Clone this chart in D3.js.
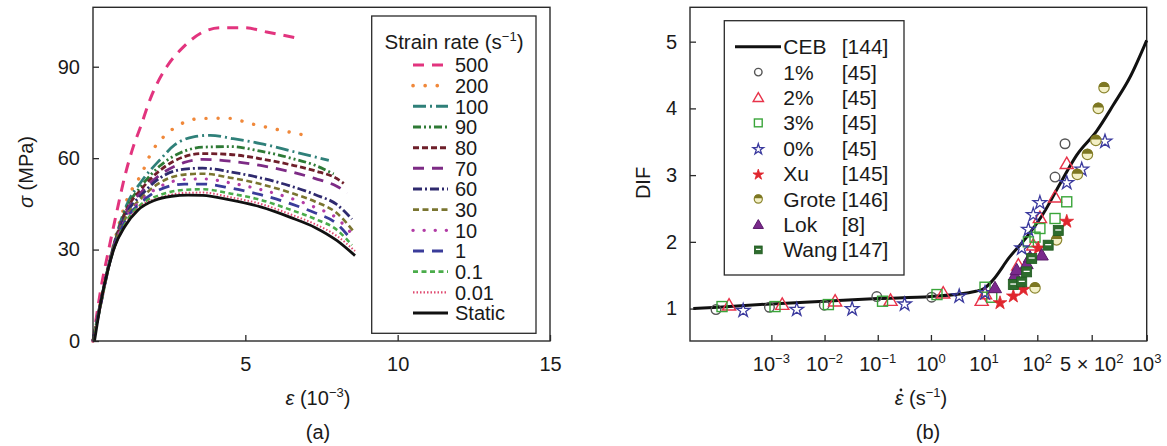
<!DOCTYPE html>
<html><head><meta charset="utf-8">
<script src="https://cdn.jsdelivr.net/npm/d3@7"></script>
<style>
body{margin:0;background:#fff}
svg{display:block}
text{font-family:"Liberation Sans",Arial,sans-serif;fill:#1a1a1a}
</style>
</head><body>
<svg id="c" width="1167" height="446"></svg>
<script>
// ---------------- DATA: panel (a) ----------------
const rateLabels = ["500","200","100","90","80","70","60","30","10","1","0.1","0.01","Static"];
const strain500 = [0,0.27,0.49,0.77,1.04,1.32,1.55,1.93,2.42,2.97,3.52,4.2,4.95,5.7,6.64];
const stress500 = [0,17.8,28.8,41.9,53.9,63.7,70,80.7,90,96.5,100.9,102.8,102.8,101.4,99.5];
const strain200 = [0,0.25,0.55,1.1,1.6,1.93,2.26,2.64,3.03,3.52,4.4,5.27,6.0,6.97];
const stress200 = [0,13,26.5,46,55,62.1,66.4,69.7,71.9,73.0,73.1,71.1,69.5,67.5];
const strain100 = [0,0.25,0.55,1.1,1.6,2.2,2.7,3.3,3.85,4.6,5.5,6.6,7.74];
const stress100 = [0,12.8,26.5,44.5,52.5,59.5,64.5,67,67.5,66.4,64.8,62.1,59.3];
const strain90 = [0,0.25,0.55,1.1,1.6,2.2,3.0,3.6,4.5,5.5,6.5,7.3,7.9];
const stress90 = [0,12.7,26.3,43.5,51,57.5,62.3,63.6,63.8,62.3,60,57.6,54.8];
const strain80 = [0,0.25,0.55,1.1,1.6,2.2,3.0,3.6,4.5,5.5,6.5,7.3,8.0,8.23];
const stress80 = [0,12.6,26.2,43,50,56,60.5,61.5,61.2,59.8,57.8,55.8,53.3,51.7];
const strain70 = [0,0.25,0.55,1.1,1.6,2.2,3.0,3.6,4.5,5.5,6.5,7.3,8.0,8.35];
const stress70 = [0,12.5,26.1,42.5,49,54.5,58.6,59.6,59,57.6,55.5,53.3,50.8,48.6];
const strain60 = [0,0.25,0.55,1.1,1.6,2.2,3.0,3.6,4.5,5.5,6.5,7.3,8.0,8.5];
const stress60 = [0,12.3,26,41.8,48,53.5,56.4,56.7,55.5,53.5,50.8,48,44.8,40];
const strain30 = [0,0.25,0.55,1.1,1.6,2.2,3.0,3.6,4.5,5.5,6.5,7.3,8.0,8.55];
const stress30 = [0,12.1,25.9,41,47,52,54.6,54.9,53.6,51.5,48.6,45.7,42,36];
const strain10 = [0,0.25,0.55,1.1,1.6,2.2,3.0,3.6,4.5,5.5,6.5,7.3,8.0,8.55];
const stress10 = [0,12,25.8,40.5,46.3,50.7,53,53.2,51.9,49.7,46.8,43.8,40.3,34.5];
const strain1 = [0,0.25,0.55,1.1,1.6,2.2,3.0,3.6,4.5,5.5,6.5,7.3,8.0,8.5];
const stress1 = [0,11.8,25.7,40,45.6,49.7,51.5,51.5,50.2,48,45,42,38.5,33];
const strain01 = [0,0.25,0.55,1.1,1.6,2.2,3.0,3.6,4.5,5.5,6.5,7.3,8.0,8.5];
const stress01 = [0,11.6,25.6,39.3,45,47.9,49.6,49.8,48.4,46.3,43,40,36.5,31.5];
const strain001 = [0,0.25,0.55,1.1,1.6,2.2,3.0,3.6,4.5,5.5,6.5,7.3,8.0,8.6];
const stress001 = [0,11.4,25.5,38.8,44.5,47,48.6,48.7,47.2,45,41.5,38.3,34.5,29.5];
const strainStatic = [0.05,0.27,0.49,0.71,1.04,1.48,2.03,2.58,3.12,3.6,4.5,5.5,6.5,7.3,8.0,8.6];
const stressStatic = [0,13.4,23.3,30.9,37.5,43,46.2,47.5,47.9,47.8,46.3,44,40.5,37.2,33,28];
const stressTicks = [0,30,60,90];
const strainTicks = [5,10,15];

// ---------------- DATA: panel (b) ----------------
const cebRate = [3.4e-5,1e-4,1e-3,1e-2,1e-1,1,7,10,14.4,30,63,119,196,321,532,656,811,1000];
const cebDif  = [1.0,1.02,1.07,1.11,1.15,1.18,1.26,1.3,1.42,1.77,2.07,2.42,2.87,3.30,3.66,4.05,4.47,5.02];
const p1Rate = [9.1e-5,9.2e-4,9.9e-3,0.096,1.03,169,227];
const p1Dif  = [0.985,1.02,1.05,1.18,1.17,2.97,3.47];
const p2Rate = [1.6e-4,1.6e-3,1.58e-2,0.174,1.7,9.0,10.4,44,84,108,169,239];
const p2Dif  = [1.05,1.06,1.11,1.12,1.23,1.12,1.22,1.65,1.95,2.36,2.67,3.17];
const p3Rate = [1.18e-4,1.17e-3,1.18e-2,0.123,1.3,10.4,13.9,38,68,90.6,108,169,239];
const p3Dif  = [1.03,1.03,1.06,1.11,1.21,1.32,1.17,1.37,2.0,2.07,2.2,2.35,2.6];
const p0Rate = [2.95e-4,3.0e-3,3.3e-2,0.32,3.4,10.4,51,68,84,108,239,372,591];
const p0Dif  = [0.985,1.0,1.01,1.08,1.2,1.25,1.92,2.2,2.42,2.6,2.9,3.1,3.52];
const xuRate = [19.9,35.4,54.6,103,239];
const xuDif  = [1.1,1.2,1.3,1.92,2.32];
const groteRate = [90.6,177,327,441,527,543,584];
const groteDif  = [1.31,2.03,3.01,3.31,3.52,4.0,4.31];
const lokRate = [16,38,41,63,73,114];
const lokDif  = [1.31,1.5,1.58,1.67,1.77,1.8];
const wangRate = [35.4,51,63,78.5,138,186];
const wangDif  = [1.36,1.4,1.55,1.75,1.95,2.17];
const legendNames = ["CEB","1%","2%","3%","0%","Xu","Grote","Lok","Wang"];
const legendRefs  = ["[144]","[45]","[45]","[45]","[45]","[145]","[146]","[8]","[147]"];
const difTicks = [1,2,3,4,5];
const rateTicks = [1e-3,1e-2,1e-1,1,10,100,500,1000];
const rateTickBase = ["10","10","10","10","10","10","5 × 10","10"];
const rateTickExp  = ["−3","−2","−1","0","1","2","2","3"];

// ---------------- STYLES ----------------
const lineColors = ["#e2347e","#f0883a","#2f8079","#2e7a35","#6e1f2a","#7d2b85","#2f2a6e","#7a7530","#b23ca5","#3a3c9a","#4aac4a","#e04a70","#111111"];
const lineDash = ["11,8","0.1,12","13,4,2,4","8,3,2,3,2,3","6,3","11,8","9,3,2,3","6,3.5","0.1,11","11,8","5,3.5","1.5,2","none"];
const lineCap = ["butt","round","butt","butt","butt","butt","butt","butt","round","butt","butt","butt","butt"];
const lineW = [3,3.4,2.8,2.8,2.8,2.8,2.8,2.6,3.2,2.8,2.6,2,2.8];

const svg = d3.select("#c");
svg.append("rect").attr("width",1167).attr("height",446).attr("fill","#fff");

// ================= PANEL A =================
const xA = d3.scaleLinear().domain([0,15]).range([93,550]);
const yA = d3.scaleLinear().domain([0,109.5]).range([341,7.3]);
const gA = svg.append("g");
const axisColor = "#2a2a2a";

const strainSeries = [strain500,strain200,strain100,strain90,strain80,strain70,strain60,strain30,strain10,strain1,strain01,strain001,strainStatic];
const stressSeries = [stress500,stress200,stress100,stress90,stress80,stress70,stress60,stress30,stress10,stress1,stress01,stress001,stressStatic];

const lineA = d3.line().x(d=>xA(d[0])).y(d=>yA(d[1])).curve(d3.curveMonotoneX);
for (let i = 0; i < rateLabels.length; i++) {
  const pts = strainSeries[i].map((s,j)=>[s, stressSeries[i][j]]);
  gA.append("path").attr("d", lineA(pts)).attr("fill","none")
    .attr("stroke", lineColors[i]).attr("stroke-width", lineW[i])
    .attr("stroke-dasharray", lineDash[i]).attr("stroke-linecap", lineCap[i])
    .attr("stroke-linejoin","round");
}

gA.append("g").attr("transform","translate(93,0)")
  .call(d3.axisLeft(yA).tickValues(stressTicks).tickSizeInner(-6).tickSizeOuter(0).tickPadding(13))
  .call(g=>{g.select(".domain").remove(); g.selectAll("line").attr("stroke",axisColor).attr("stroke-width",1.3);
    g.selectAll("text").attr("font-size",20).attr("fill","#1a1a1a").attr("font-family","Liberation Sans, Arial, sans-serif");});
gA.append("g").attr("transform","translate(0,341)")
  .call(d3.axisBottom(xA).tickValues(strainTicks).tickSizeInner(-6).tickSizeOuter(0).tickPadding(16))
  .call(g=>{g.select(".domain").remove(); g.selectAll("line").attr("stroke",axisColor).attr("stroke-width",1.3);
    g.selectAll("text").attr("font-size",20).attr("fill","#1a1a1a").attr("font-family","Liberation Sans, Arial, sans-serif");});
gA.append("rect").attr("x",xA(0)).attr("y",yA(109.5)).attr("width",xA(15)-xA(0)).attr("height",yA(0)-yA(109.5))
  .attr("fill","none").attr("stroke",axisColor).attr("stroke-width",1.4);

// legend A
const legA = gA.append("g");
legA.append("rect").attr("x",371.7).attr("y",16).attr("width",164.3).attr("height",317.3)
  .attr("fill","#fff").attr("stroke",axisColor).attr("stroke-width",1.3);
const tA = legA.append("text").attr("x",454).attr("y",49).attr("text-anchor","middle").attr("font-size",20.5);
tA.append("tspan").text("Strain rate (s");
tA.append("tspan").attr("font-size",13).attr("dy",-8).text("−1");
tA.append("tspan").attr("dy",8).text(")");
rateLabels.forEach((lab,i)=>{
  const cy = 65 + i*20.67;
  legA.append("line").attr("x1",413).attr("x2",448).attr("y1",cy).attr("y2",cy)
    .attr("stroke",lineColors[i]).attr("stroke-width",lineW[i]+0.2)
    .attr("stroke-dasharray",lineDash[i]).attr("stroke-linecap",lineCap[i]);
  legA.append("text").attr("x",455).attr("y",cy+7.3).attr("font-size",20).text(lab);
});

// axis titles A
const yTitA = gA.append("text").attr("transform","translate(33,172) rotate(-90)").attr("text-anchor","middle").attr("font-size",20);
yTitA.append("tspan").attr("font-style","italic").text("σ");
yTitA.append("tspan").text(" (MPa)");
const xTitA = gA.append("text").attr("x",318).attr("y",405).attr("text-anchor","middle").attr("font-size",20);
xTitA.append("tspan").attr("font-style","italic").text("ε");
xTitA.append("tspan").text(" (10");
xTitA.append("tspan").attr("font-size",13).attr("dy",-8).text("−3");
xTitA.append("tspan").attr("dy",8).text(")");
gA.append("text").attr("x",318).attr("y",439).attr("text-anchor","middle").attr("font-size",20).text("(a)");

// ================= PANEL B =================
const xB = d3.scaleLog().domain([Math.pow(10,-4.53),100,500,1000]).range([690,1037.3,1091.7,1146.7]);
const yB = d3.scaleLinear().domain([0.514,5.515]).range([341,7.3]);
const gB = svg.append("g");

gB.append("g").attr("transform","translate(690,0)")
  .call(d3.axisLeft(yB).tickValues(difTicks).tickSizeInner(-6).tickSizeOuter(0).tickPadding(13).tickFormat(d3.format("d")))
  .call(g=>{g.select(".domain").remove(); g.selectAll("line").attr("stroke",axisColor).attr("stroke-width",1.3);
    g.selectAll("text").attr("font-size",20).attr("fill","#1a1a1a").attr("font-family","Liberation Sans, Arial, sans-serif");});
gB.append("g").attr("transform","translate(0,341)")
  .call(d3.axisBottom(xB).tickValues(rateTicks).tickSizeInner(-6).tickSizeOuter(0).tickFormat(""))
  .call(g=>{g.select(".domain").remove(); g.selectAll("line").attr("stroke",axisColor).attr("stroke-width",1.3);});
rateTicks.forEach((v,i)=>{
  const t = gB.append("text").attr("x",xB(v)).attr("y",371).attr("text-anchor","middle").attr("font-size",20);
  t.append("tspan").text(rateTickBase[i]);
  t.append("tspan").attr("font-size",13).attr("dy",-8).text(rateTickExp[i]);
});
gB.append("rect").attr("x",690).attr("y",yB(5.515)).attr("width",1146.7-690).attr("height",yB(0.514)-yB(5.515))
  .attr("fill","none").attr("stroke",axisColor).attr("stroke-width",1.4);

// CEB line
const lineB = d3.line().x(d=>xB(d[0])).y(d=>yB(d[1])).curve(d3.curveMonotoneX);
gB.append("path").attr("d", lineB(cebRate.map((r,i)=>[r,cebDif[i]])))
  .attr("fill","none").attr("stroke","#111").attr("stroke-width",3);

// markers
function drawMarker(g, kind, x, y, s) {
  const sym = d3.symbol();
  if (kind==="1%") {
    g.append("circle").attr("cx",x).attr("cy",y).attr("r",4.8*s).attr("fill","none").attr("stroke","#555").attr("stroke-width",1.4);
  } else if (kind==="2%") {
    g.append("path").attr("d",sym.type(d3.symbolTriangle).size(75*s*s)()).attr("transform",`translate(${x},${y+1})`)
      .attr("fill","none").attr("stroke","#e8334a").attr("stroke-width",1.4);
  } else if (kind==="3%") {
    g.append("rect").attr("x",x-5*s).attr("y",y-5*s).attr("width",10*s).attr("height",10*s)
      .attr("fill","none").attr("stroke","#3aa53a").attr("stroke-width",1.4);
  } else if (kind==="0%") {
    g.append("path").attr("d",sym.type(d3.symbolStar).size(58*s*s)()).attr("transform",`translate(${x},${y+1})`)
      .attr("fill","none").attr("stroke","#3b3a9e").attr("stroke-width",1.3);
  } else if (kind==="Xu") {
    g.append("path").attr("d",sym.type(d3.symbolStar).size(58*s*s)()).attr("transform",`translate(${x},${y+1})`)
      .attr("fill","#e0262e").attr("stroke","#e0262e").attr("stroke-width",0.8);
  } else if (kind==="Grote") {
    const r = 5.2*s;
    g.append("circle").attr("cx",x).attr("cy",y).attr("r",r).attr("fill","#f3f0c6").attr("stroke","#8c8630").attr("stroke-width",1.2);
    g.append("path").attr("d",`M${x-r},${y-0.8} A${r},${r} 0 0 1 ${x+r},${y-0.8} Z`).attr("fill","#7d7722");
  } else if (kind==="Lok") {
    g.append("path").attr("d",sym.type(d3.symbolTriangle).size(75*s*s)()).attr("transform",`translate(${x},${y+1})`)
      .attr("fill","#7a2a8c").attr("stroke","#5a1a6a").attr("stroke-width",1);
  } else if (kind==="Wang") {
    g.append("rect").attr("x",x-5*s).attr("y",y-5*s).attr("width",10*s).attr("height",10*s)
      .attr("fill","#2d6b2d").attr("stroke","#1f5a1f").attr("stroke-width",0.8);
    g.append("line").attr("x1",x-3*s).attr("x2",x+3*s).attr("y1",y-0.5).attr("y2",y-0.5).attr("stroke","#fff").attr("stroke-width",1.3);
  }
}
const scatterSets = [["1%",p1Rate,p1Dif],["2%",p2Rate,p2Dif],["3%",p3Rate,p3Dif],["0%",p0Rate,p0Dif],
  ["Xu",xuRate,xuDif],["Grote",groteRate,groteDif],["Lok",lokRate,lokDif],["Wang",wangRate,wangDif]];
const gPts = gB.append("g");
scatterSets.forEach(([k,rs,ds])=>{ rs.forEach((r,i)=>drawMarker(gPts,k,xB(r),yB(ds[i]),1)); });

// legend B
const legB = gB.append("g");
legB.append("rect").attr("x",724.3).attr("y",20.7).attr("width",179.7).attr("height",254.3)
  .attr("fill","#fff").attr("stroke",axisColor).attr("stroke-width",1.3);
legendNames.forEach((nm,i)=>{
  const cy = 46.7 + i*25.4;
  if (i===0) {
    legB.append("line").attr("x1",735).attr("x2",781).attr("y1",cy).attr("y2",cy).attr("stroke","#111").attr("stroke-width",3);
  } else {
    drawMarker(legB, nm, 758.3, cy, 0.78);
  }
  legB.append("text").attr("x",783.3).attr("y",cy+7.5).attr("font-size",21).text(nm);
  legB.append("text").attr("x",841.7).attr("y",cy+7.5).attr("font-size",21).text(legendRefs[i]);
});

// axis titles B
gB.append("text").attr("transform","translate(650,183) rotate(-90)").attr("text-anchor","middle").attr("font-size",20).text("DIF");
const xTitB = gB.append("text").attr("x",921).attr("y",405).attr("text-anchor","middle").attr("font-size",20);
xTitB.append("tspan").attr("font-style","italic").text("ε");
xTitB.append("tspan").text(" (s");
xTitB.append("tspan").attr("font-size",13).attr("dy",-8).text("−1");
xTitB.append("tspan").attr("dy",8).text(")");
{
  const ext = xTitB.node().getExtentOfChar(0);
  gB.append("circle").attr("cx", ext.x + ext.width/2 + 1.8).attr("cy", 390).attr("r",1.4).attr("fill","#1a1a1a");
}
gB.append("text").attr("x",928).attr("y",439).attr("text-anchor","middle").attr("font-size",20).text("(b)");
</script>
</body></html>
